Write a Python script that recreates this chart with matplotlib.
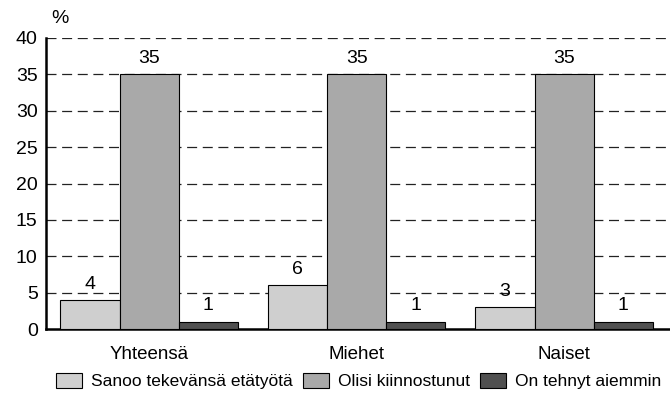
import numpy as np
import matplotlib
matplotlib.use("Agg")
import matplotlib.pyplot as plt

plt.rcParams['font.family'] = ['Liberation Sans', 'DejaVu Sans']

# data
ryhmat = ['Yhteensä', 'Miehet', 'Naiset']
sarjat = ['Sanoo tekevänsä etätyötä', 'Olisi kiinnostunut', 'On tehnyt aiemmin']
arvot = [
    [4, 6, 3],
    [35, 35, 35],
    [1, 1, 1],
]
varit = ['#cfcfcf', '#a9a9a9', '#505050']

fig = plt.figure(figsize=(6.7, 4.03), dpi=100)
ax = fig.add_axes([46 / 670, 1 - 329 / 403, 624 / 670, 291 / 403])

x = np.arange(len(ryhmat))
w = 0.285
for i, (nimi, v) in enumerate(zip(sarjat, arvot)):
    pos = x + (i - 1) * w
    ax.bar(pos, v, width=w, color=varit[i], edgecolor='black', linewidth=0.8,
           label=nimi, zorder=3)
    for px, py in zip(pos, v):
        ax.text(px, py + 1.0, str(py), ha='center', va='bottom', fontsize=14, zorder=4)

ax.set_xlim(-0.497, 2.51)
ax.set_ylim(0, 40)
ax.set_yticks(range(0, 41, 5))
ax.set_xticks(x)
ax.set_xticklabels(ryhmat, fontsize=13.5)
ax.tick_params(axis='y', labelsize=14, length=0, pad=6)
ax.tick_params(axis='x', length=0, pad=12)
for yy in range(5, 41, 5):
    ax.axhline(yy, color='#222222', linestyle=(0, (8, 4.5)), linewidth=0.9, zorder=1)
ax.spines['top'].set_visible(False)
ax.spines['right'].set_visible(False)
ax.spines['left'].set_linewidth(1.8)
ax.spines['bottom'].set_linewidth(1.8)
ax.text(-0.47, 41.5, '%', fontsize=14, ha='left', va='bottom')

fig.legend(loc='lower center', bbox_to_anchor=(0.535, -0.005), ncol=3, frameon=False,
           fontsize=12.5, handlelength=1.5, handleheight=0.9, handletextpad=0.5,
           columnspacing=0.6)

fig.savefig('out.png', dpi=100)
